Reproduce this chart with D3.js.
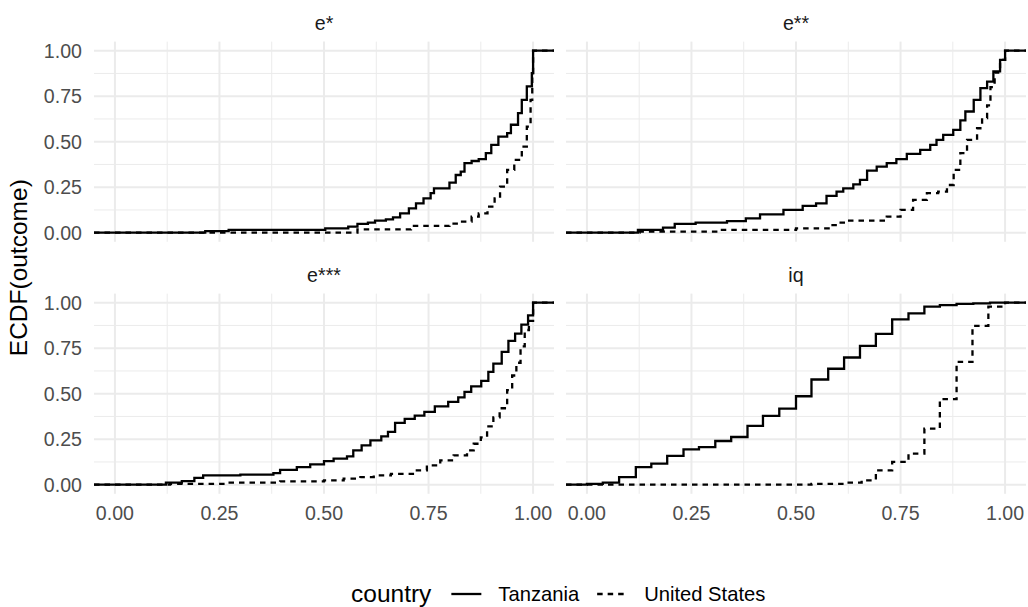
<!DOCTYPE html>
<html lang="en">
<head>
<meta charset="UTF-8">
<title>ECDF by country</title>
<script src="https://d3js.org/d3.v7.min.js"></script>
<style>
  body { margin: 0; background: #fff; }
  text { font-family: "Liberation Sans", Arial, sans-serif; }
</style>
</head>
<body>
<svg id="chart" width="1028" height="607"></svg>
<script>
// facets and legend entries
const facets = ["e*", "e**", "e***", "iq"];
const countries = ["Tanzania", "United States"];
const ticks = [0, 0.25, 0.5, 0.75, 1];
const tickLabels = ["0.00", "0.25", "0.50", "0.75", "1.00"];

// ECDF steps: [outcome, ECDF]
const tzE1 = [[0.216,0.009],[0.272,0.015],[0.503,0.024],[0.558,0.033],[0.58,0.048],[0.605,0.055],[0.622,0.066],[0.648,0.073],[0.665,0.084],[0.682,0.106],[0.703,0.134],[0.72,0.161],[0.738,0.189],[0.755,0.217],[0.763,0.244],[0.80,0.275],[0.815,0.317],[0.827,0.336],[0.836,0.382],[0.853,0.394],[0.87,0.404],[0.887,0.437],[0.90,0.483],[0.917,0.528],[0.938,0.547],[0.947,0.593],[0.964,0.657],[0.973,0.73],[0.985,0.804],[0.997,0.877],[1.0,1.0]];
const usE1 = [[0.58,0.018],[0.708,0.037],[0.80,0.05],[0.827,0.061],[0.853,0.088],[0.87,0.106],[0.891,0.143],[0.908,0.189],[0.921,0.253],[0.938,0.345],[0.955,0.40],[0.973,0.473],[0.985,0.583],[0.994,0.73],[0.998,0.877],[1.0,1.0]];

const tzE2 = [[0.122,0.015],[0.182,0.028],[0.21,0.048],[0.26,0.055],[0.335,0.064],[0.38,0.079],[0.414,0.101],[0.47,0.125],[0.516,0.147],[0.548,0.161],[0.573,0.202],[0.597,0.226],[0.613,0.244],[0.637,0.266],[0.653,0.29],[0.67,0.341],[0.693,0.363],[0.717,0.382],[0.74,0.404],[0.765,0.433],[0.797,0.455],[0.821,0.483],[0.836,0.51],[0.852,0.538],[0.876,0.565],[0.893,0.617],[0.905,0.666],[0.925,0.73],[0.941,0.794],[0.957,0.83],[0.972,0.886],[0.988,0.95],[1.0,1.0]];
const usE2 = [[0.126,0.006],[0.318,0.015],[0.5,0.024],[0.578,0.042],[0.6,0.055],[0.62,0.066],[0.717,0.088],[0.75,0.125],[0.78,0.18],[0.813,0.217],[0.84,0.226],[0.861,0.262],[0.877,0.345],[0.893,0.437],[0.909,0.51],[0.933,0.574],[0.945,0.63],[0.957,0.70],[0.965,0.80],[0.975,0.88],[0.988,0.95],[1.0,1.0]];

const tzE3 = [[0.122,0.011],[0.16,0.02],[0.19,0.038],[0.211,0.051],[0.30,0.055],[0.379,0.064],[0.395,0.082],[0.435,0.097],[0.467,0.112],[0.5,0.13],[0.523,0.143],[0.555,0.156],[0.57,0.189],[0.59,0.216],[0.611,0.244],[0.637,0.266],[0.653,0.29],[0.67,0.34],[0.693,0.362],[0.717,0.38],[0.74,0.40],[0.765,0.43],[0.797,0.455],[0.821,0.48],[0.836,0.51],[0.852,0.54],[0.876,0.57],[0.893,0.62],[0.905,0.665],[0.925,0.73],[0.941,0.79],[0.957,0.83],[0.972,0.88],[0.988,0.93],[1.0,1.0]];
const usE3 = [[0.132,0.005],[0.27,0.011],[0.395,0.018],[0.5,0.024],[0.547,0.033],[0.587,0.042],[0.619,0.051],[0.66,0.06],[0.722,0.079],[0.746,0.106],[0.778,0.134],[0.81,0.161],[0.842,0.189],[0.858,0.225],[0.875,0.26],[0.89,0.32],[0.905,0.37],[0.92,0.42],[0.938,0.52],[0.95,0.6],[0.96,0.67],[0.97,0.76],[0.98,0.85],[0.99,0.9],[1.0,1.0]];

const tzIQ = [[0.0,0.005],[0.038,0.011],[0.077,0.042],[0.117,0.097],[0.154,0.116],[0.192,0.158],[0.231,0.194],[0.268,0.207],[0.307,0.24],[0.345,0.262],[0.384,0.323],[0.421,0.378],[0.46,0.418],[0.5,0.486],[0.537,0.578],[0.577,0.637],[0.615,0.699],[0.653,0.763],[0.691,0.829],[0.73,0.908],[0.769,0.941],[0.807,0.978],[0.844,0.987],[0.884,0.993],[0.924,0.996],[0.964,1.0]];
const usIQ = [[0.537,0.005],[0.619,0.011],[0.657,0.024],[0.691,0.079],[0.73,0.125],[0.769,0.171],[0.807,0.308],[0.844,0.47],[0.884,0.675],[0.922,0.873],[0.96,0.978],[1.0,1.0]];

const series = {
  "e*":   [tzE1, usE1],
  "e**":  [tzE2, usE2],
  "e***": [tzE3, usE3],
  "iq":   [tzIQ, usIQ]
};

const svg = d3.select("#chart");
const panelW = 460, panelH = 200.2;
const panelLeft = 94, panelTop = 41.6, gapX = 12, gapY = 51.8;
const dashes = [null, "5.5,5"];

const x = d3.scaleLinear().domain([-0.05, 1.05]).range([0, panelW]);
const y = d3.scaleLinear().domain([-0.05, 1.05]).range([panelH, 0]);
const minor = [0.125, 0.375, 0.625, 0.875];

const line = d3.line()
    .x(d => x(d[0]))
    .y(d => y(d[1]))
    .curve(d3.curveStepAfter);

facets.forEach((name, i) => {
  const col = i % 2, row = Math.floor(i / 2);
  const g = svg.append("g")
      .attr("transform", `translate(${panelLeft + col * (panelW + gapX)},${panelTop + row * (panelH + gapY)})`);

  // minor grid
  g.selectAll(".vmin").data(minor).enter().append("line")
      .attr("x1", d => x(d)).attr("x2", d => x(d))
      .attr("y1", 0).attr("y2", panelH)
      .attr("stroke", "#ebebeb").attr("stroke-width", 1);
  g.selectAll(".hmin").data(minor).enter().append("line")
      .attr("y1", d => y(d)).attr("y2", d => y(d))
      .attr("x1", 0).attr("x2", panelW)
      .attr("stroke", "#ebebeb").attr("stroke-width", 1);
  // major grid
  g.selectAll(".vmaj").data(ticks).enter().append("line")
      .attr("x1", d => x(d)).attr("x2", d => x(d))
      .attr("y1", 0).attr("y2", panelH)
      .attr("stroke", "#ebebeb").attr("stroke-width", 2);
  g.selectAll(".hmaj").data(ticks).enter().append("line")
      .attr("y1", d => y(d)).attr("y2", d => y(d))
      .attr("x1", 0).attr("x2", panelW)
      .attr("stroke", "#ebebeb").attr("stroke-width", 2);

  // strip label
  g.append("text")
      .attr("x", panelW / 2).attr("y", -12)
      .attr("text-anchor", "middle")
      .attr("fill", "#1a1a1a")
      .style("font-size", "19.6px")
      .text(name);

  // ECDF lines, padded to the panel edges like stat_ecdf
  series[name].forEach((pts, k) => {
    const padded = [[x.domain()[0], 0]].concat(pts, [[x.domain()[1], 1]]);
    g.append("path")
        .attr("d", line(padded))
        .attr("fill", "none")
        .attr("stroke", "#000")
        .attr("stroke-width", 2.3)
        .attr("stroke-dasharray", dashes[k]);
  });

  if (col === 0) {
    g.selectAll(".ylab").data(ticks).enter().append("text")
        .attr("x", -12).attr("y", d => y(d) + 7)
        .attr("text-anchor", "end")
        .attr("fill", "#4d4d4d")
        .style("font-size", "19.6px")
        .text((d, j) => tickLabels[j]);
  }
  if (row === 1) {
    g.selectAll(".xlab").data(ticks).enter().append("text")
        .attr("x", d => x(d)).attr("y", panelH + 25.9)
        .attr("text-anchor", "middle")
        .attr("fill", "#4d4d4d")
        .style("font-size", "19.6px")
        .text((d, j) => tickLabels[j]);
  }
});

// y axis title
svg.append("text")
    .attr("transform", `translate(27,${panelTop + panelH + gapY / 2}) rotate(-90)`)
    .attr("text-anchor", "middle")
    .style("font-size", "24.5px")
    .text("ECDF(outcome)");

// legend at the bottom
const leg = svg.append("g").attr("transform", "translate(351,0)");
const legY = 594;
const title = leg.append("text")
    .attr("x", 0).attr("y", legY + 7.5)
    .style("font-size", "24.5px")
    .text("country");
let cx = title.node().getComputedTextLength() + 20;
countries.forEach((c, k) => {
  leg.append("line")
      .attr("x1", cx).attr("x2", cx + 30)
      .attr("y1", legY).attr("y2", legY)
      .attr("stroke", "#000").attr("stroke-width", 2.3)
      .attr("stroke-dasharray", dashes[k]);
  const t = leg.append("text")
      .attr("x", cx + 47).attr("y", legY + 7)
      .style("font-size", "20.2px")
      .text(c);
  cx += 47 + t.node().getComputedTextLength() + 18;
});
</script>
</body>
</html>
